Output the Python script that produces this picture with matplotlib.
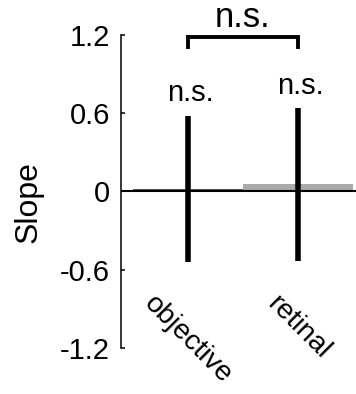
import matplotlib
matplotlib.use("Agg")
import matplotlib.pyplot as plt

plt.rcParams['font.family'] = ['Liberation Sans', 'DejaVu Sans']

# Data
conditions = ["objective", "retinal"]
slopes = [0.02, 0.055]
errors = [0.56, 0.585]
bar_colors = ["#555555", "#aaaaaa"]
yticks = [-1.2, -0.6, 0, 0.6, 1.2]
ytick_labels = ["-1.2", "-0.6", "0", "0.6", "1.2"]
sig_each = ["n.s.", "n.s."]
sig_between = "n.s."

fig = plt.figure(figsize=(3.56, 3.94), dpi=100)
ax = fig.add_axes([0.340, 0.1168, 0.660, 0.7944])

pos = list(range(len(conditions)))
ax.bar(pos, slopes, width=1.0, color=bar_colors, zorder=1)
ax.axhline(0, color="black", lw=1.5, zorder=2)
ax.errorbar(pos, slopes, yerr=errors, fmt="none", ecolor="black",
            elinewidth=4, capsize=0, zorder=3)

# per-condition significance labels
for x, m, e, s in zip(pos, slopes, errors, sig_each):
    ax.text(x + 0.02, m + e + 0.11, s, ha="center", va="baseline",
            fontsize=21, clip_on=False)

# bracket comparing the two conditions
ax.plot([pos[0], pos[0], pos[1], pos[1]], [1.11, 1.185, 1.185, 1.11],
        color="black", lw=2.8, solid_joinstyle="miter", clip_on=False)
ax.text((pos[0] + pos[1]) / 2, 1.26, sig_between, ha="center",
        va="baseline", fontsize=25, clip_on=False)

# condition labels set inside the plotting area
for x, lab in zip(pos, conditions):
    ax.text(x, -0.76, lab, rotation=-45, ha="center", va="top",
            fontsize=20.5)

ax.set_xlim(-0.609, 1.527)
ax.set_ylim(-1.2, 1.2)
ax.set_yticks(yticks)
ax.set_yticklabels(ytick_labels)
ax.set_xticks([])
ax.tick_params(axis="y", direction="in", length=3, width=1.1, pad=8,
               labelsize=21)
for side in ["top", "right", "bottom"]:
    ax.spines[side].set_visible(False)
ax.spines["left"].set_linewidth(1.1)

ax.set_ylabel("Slope", fontsize=23)
ax.yaxis.set_label_coords(-0.33, 0.466)

fig.savefig("out.png", dpi=100)
